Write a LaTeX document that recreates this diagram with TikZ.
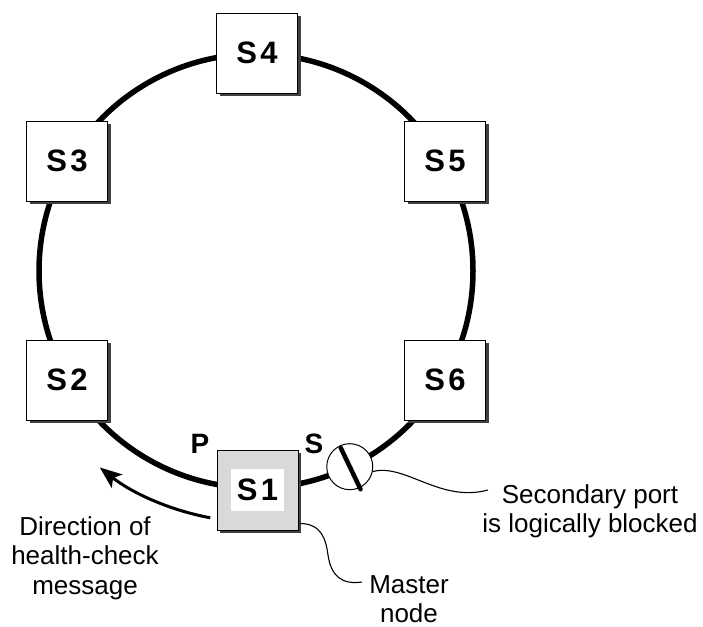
\documentclass[tikz,border=0pt]{standalone}
\usepackage{fontspec}
\setmainfont{Liberation Sans}
\usetikzlibrary{shadows,calc,arrows.meta}
\begin{document}
\begin{tikzpicture}[x=1pt,y=-1pt,
  sw/.style={draw=black, line width=0.9pt, fill=white, minimum width=81pt, minimum height=80pt, inner sep=0pt,
    font=\fontsize{31}{36}\selectfont\bfseries,
    drop shadow={shadow xshift=3pt, shadow yshift=-3pt, opacity=1, fill=black!75}},
  ring/.style={line width=5.5pt},
  portlbl/.style={font=\fontsize{28}{32}\selectfont\bfseries, anchor=base, inner sep=0pt},
  note/.style={font=\fontsize{26}{29.5}\selectfont, align=center, inner sep=0pt, anchor=north},
  callout/.style={line width=1.1pt},
]
\useasboundingbox (0,0) rectangle (703,626);
\coordinate (c) at (256,271);
% ring
\draw[ring] (c) circle[radius=217];
% direction arrow
\draw[line width=3pt, -{Stealth[length=22pt,width=17pt,inset=5pt]}]
  ($(c)+(100.5:251)$) arc[start angle=100.5, end angle=128.5, radius=251];
% switches
\node[sw] (s4) at (257,53) {S\kern3.5pt4};
\node[sw] (s3) at (67,161) {S\kern3.5pt3};
\node[sw] (s5) at (445,161) {S\kern3.5pt5};
\node[sw] (s2) at (67,380) {S\kern3.5pt2};
\node[sw] (s6) at (445,380) {S\kern3.5pt6};
\node[sw, fill=gray!30] (s1) at (257.5,490) {};
\node[fill=white, minimum width=53pt, minimum height=42pt, inner sep=0pt,
  font=\fontsize{31}{36}\selectfont\bfseries] (s1lbl) at (s1.center) {S\kern3.5pt1};
% port labels
\node[portlbl] (plbl) at (200,453) {P};
\node[portlbl] (slbl) at (314,453) {S};
% blocked secondary port
\node[circle, draw, line width=1pt, fill=white, minimum size=46pt, inner sep=0pt] (port) at ($(c)+(64.4:217)$) {};
\draw[line width=4.5pt, line cap=round] ($(port.center)+(64.4:-21)$) -- ($(port.center)+(64.4:25)$);
% notes
\node[note] (dir) at (85,516) {Direction of\\health-check\\message};
\node[note] (sec) at (590,484) {Secondary port\\is logically blocked};
\node[note] (mas) at (409,575) {Master\\node};
% callouts
\coordinate (secend) at (488,490);
\draw[callout] (port.-12) .. controls (405,463) and (440,503) .. (secend);
\coordinate (masstart) at ($(s1.south east)+(2,-7)$);
\coordinate (masend) at (362,582);
\draw[callout] (masstart) .. controls (322,524) and (326,540) .. (328,555)
  .. controls (331,576) and (342,585) .. (masend);
\end{tikzpicture}
\end{document}
